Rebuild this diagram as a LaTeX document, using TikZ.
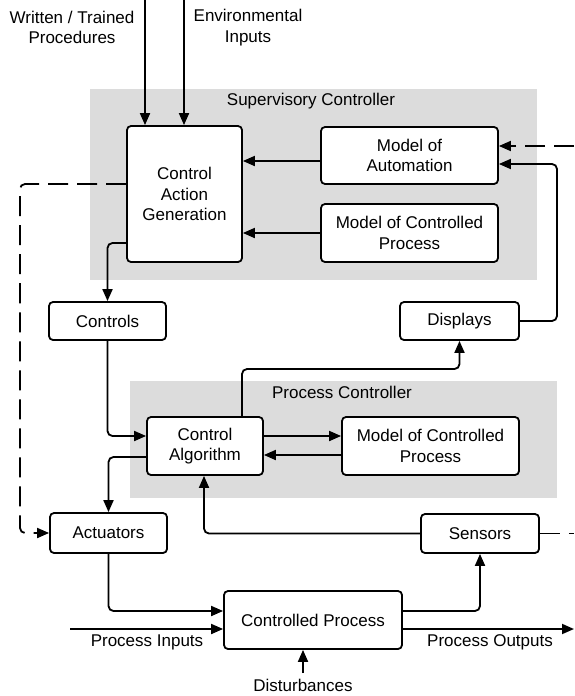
\documentclass[tikz,border=0pt]{standalone}
\usepackage{fontspec}
\setmainfont{Liberation Sans}
\usetikzlibrary{arrows.meta}
\definecolor{panelgray}{RGB}{220,220,220}
\begin{document}
\begin{tikzpicture}[x=1pt,y=-1pt,
  box/.style={draw, line width=1.8pt, rounded corners=4pt, fill=white, inner sep=0pt, align=center, font=\fontsize{17}{20.5}\selectfont},
  lbl/.style={inner sep=0pt, align=center, font=\fontsize{17}{20.5}\selectfont},
  conn/.style={line width=1.8pt, rounded corners=5pt, -{Triangle[length=12pt,width=10pt]}},
  plainline/.style={line width=1.8pt, rounded corners=5pt},
  dashline/.style={dash pattern=on 20pt off 9pt},
  panel/.style={fill=panelgray, draw=none, inner sep=0pt}
]
\useasboundingbox (0,0) rectangle (574,696);
% panels
\node[panel, minimum width=447pt, minimum height=191pt] (suppanel) at (313.5,184.5) {};
\node[panel, minimum width=427pt, minimum height=117pt] (pcpanel) at (343.5,439.5) {};
% boxes
\node[box, minimum width=115pt, minimum height=136pt] (cag) at (184.5,194) {Control\\Action\\Generation};
\node[box, minimum width=177pt, minimum height=57pt] (moa) at (409.5,155.5) {Model of\\Automation};
\node[box, minimum width=177pt, minimum height=58pt] (mcpa) at (409.5,233) {Model of Controlled\\Process};
\node[box, minimum width=117pt, minimum height=38pt] (ctrls) at (107.5,321) {Controls};
\node[box, minimum width=119pt, minimum height=38pt] (disp) at (459.5,321) {Displays};
\node[box, minimum width=116pt, minimum height=58pt] (calg) at (205,446) {Control\\Algorithm};
\node[box, minimum width=177pt, minimum height=58pt] (mcpb) at (430.5,446) {Model of Controlled\\Process};
\node[box, minimum width=117pt, minimum height=40pt] (act) at (108.5,533) {Actuators};
\node[box, minimum width=118pt, minimum height=39pt] (sens) at (480,533.5) {Sensors};
\node[box, minimum width=178pt, minimum height=58pt] (cp) at (313,620) {Controlled Process};
% labels
\node[lbl] (wtp) at (72,27.5) {Written / Trained\\Procedures};
\node[lbl] (env) at (248,27.5) {Environmental\\Inputs};
\node[lbl] (suplbl) at (311,101) {Supervisory Controller};
\node[lbl] (pclbl) at (342,392) {Process Controller};
\node[lbl] (pin) at (147,642) {Process Inputs};
\node[lbl] (pout) at (490,642) {Process Outputs};
\node[lbl] (dist) at (303,685) {Disturbances};
% free ends
\coordinate (wtpin) at (145,0);
\coordinate (envin) at (184,0);
\coordinate (rtop) at (574,146);
\coordinate (rbot) at (574,533.5);
\coordinate (pinstart) at (70,629);
\coordinate (poutend) at (574,629);
\coordinate (diststart) at (303,673);
% connectors
\draw[conn] (wtpin) -- (wtpin |- cag.north);
\draw[conn] (envin) -- (envin |- cag.north);
\draw[conn] (moa.west |- 0,161) -- (cag.east |- 0,161);
\draw[conn] (mcpa.west) -- (cag.east |- mcpa.west);
\draw[conn, dashline] (rtop) -- (moa.east |- rtop);
\draw[conn] (disp.east) -- (557,321) -- (557,164) -- (moa.east |- 0,164);
\draw[conn, dashline] (cag.west |- 0,184) -- (20,184) -- (20,533) -- (act.west);
\draw[conn] (cag.west |- 0,243) -- (ctrls.north |- 0,243) -- (ctrls.north);
\draw[conn] (ctrls.south) -- (ctrls.south |- 0,436) -- (calg.west |- 0,436);
\draw[conn] (calg.east |- 0,436) -- (mcpb.west |- 0,436);
\draw[conn] (mcpb.west |- 0,455) -- (calg.east |- 0,455);
\draw[conn] (calg.west |- 0,457) -- (act.north |- 0,457) -- (act.north);
\draw[conn] (calg.north -| 242,0) -- (242,369) -- (disp.south |- 0,369) -- (disp.south);
\draw[conn] (sens.west) -- (204,533.5) -- (calg.south -| 204,0);
\draw[plainline, dashline] (sens.east) -- (rbot);
\draw[conn] (act.south) -- (act.south |- 0,611) -- (cp.west |- 0,611);
\draw[conn] (pinstart) -- (cp.west |- pinstart);
\draw[conn] (cp.east |- 0,611) -- (sens.south |- 0,611) -- (sens.south);
\draw[conn] (cp.east |- poutend) -- (poutend);
\draw[conn] (diststart) -- (cp.south -| diststart);
\end{tikzpicture}
\end{document}
